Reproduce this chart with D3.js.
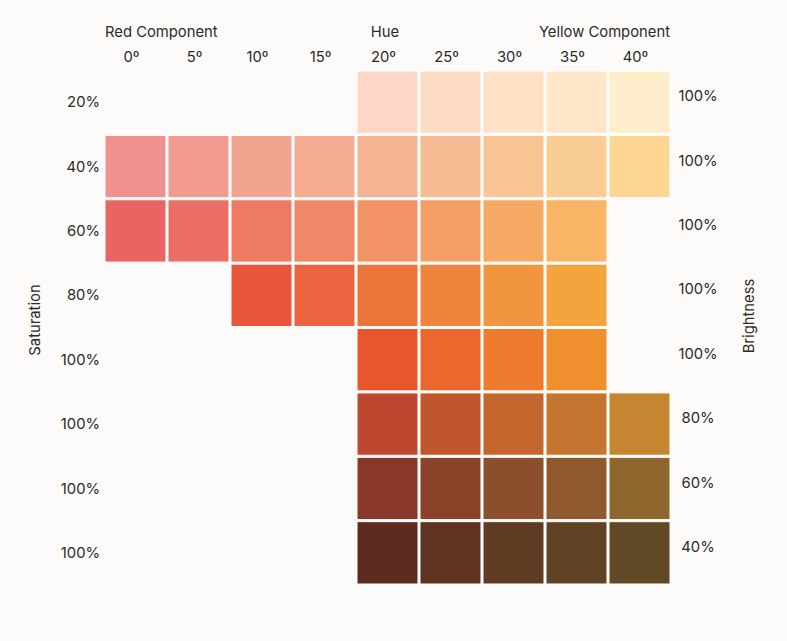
<!DOCTYPE html>
<html>
<head>
<meta charset="utf-8">
<script src="https://cdn.jsdelivr.net/npm/d3@7"></script>
<style>
  html, body { margin: 0; padding: 0; background: #fcfbf9; }
  svg { display: block; }
  text { font-family: Inter, "Noto Sans", sans-serif; fill: #2b2b2b; }
</style>
</head>
<body>
<svg id="chart" width="787" height="641"></svg>
<script>
// Hue columns (degrees)
const hues = [0, 5, 10, 15, 20, 25, 30, 35, 40];
const hueLabels = ["0º", "5º", "10º", "15º", "20º", "25º", "30º", "35º", "40º"];
// Row labels
const saturationLabels = ["20%", "40%", "60%", "80%", "100%", "100%", "100%", "100%"];
const brightnessLabels = ["100%", "100%", "100%", "100%", "100%", "80%", "60%", "40%"];
// Swatch colours per row (null = no swatch), columns follow `hues`
const row1 = [null, null, null, null, "#fdd6c5", "#fddcc5", "#fde2c6", "#fee7c9", "#feeecc"];
const row2 = ["#f09190", "#f19b8f", "#f2a491", "#f4ab91", "#f6b391", "#f6bb92", "#f9c593", "#facd95", "#fdd694"];
const row3 = ["#ea6464", "#ec6f65", "#ee7a63", "#f08766", "#f29366", "#f29e64", "#f5a963", "#f8b565", null];
const row4 = [null, null, "#e8553a", "#ea643f", "#ec743b", "#ef843d", "#f1953f", "#f4a43d", null];
const row5 = [null, null, null, null, "#e8562b", "#ea682c", "#ee7b2d", "#f08f2d", null];
const row6 = [null, null, null, null, "#c0472f", "#c0572c", "#c3662e", "#c47630", "#c58531"];
const row7 = [null, null, null, null, "#8a3629", "#8b4229", "#8c4e2b", "#8e5a2d", "#8f662e"];
const row8 = [null, null, null, null, "#5e2b20", "#5f3321", "#5e3b22", "#604224", "#614926"];
const swatchRows = [row1, row2, row3, row4, row5, row6, row7, row8];

const svg = d3.select("#chart");
const FS = 14.8;

const x = d3.scaleBand().domain(hues).range([105, 670]).paddingInner(0.032).paddingOuter(0);
const y = d3.scaleBand().domain(d3.range(swatchRows.length)).range([71, 584]).paddingInner(0.032).paddingOuter(0);

// Cells
const cells = [];
swatchRows.forEach((r, ri) => r.forEach((c, ci) => { if (c) cells.push({ row: ri, hue: hues[ci], color: c }); }));

svg.append("g").selectAll("rect").data(cells).join("rect")
  .attr("x", d => x(d.hue))
  .attr("y", d => y(d.row))
  .attr("width", x.bandwidth())
  .attr("height", y.bandwidth())
  .attr("fill", d => d.color)
  .attr("stroke", "#ffffff")
  .attr("stroke-width", 1);

// Top hue tick labels
svg.append("g").selectAll("text").data(hues).join("text")
  .attr("x", d => x(d) + x.bandwidth() / 2 - 4)
  .attr("y", 62)
  .attr("text-anchor", "middle")
  .attr("font-size", FS)
  .text((d, i) => hueLabels[i]);

// Header labels
const header = svg.append("g").attr("font-size", FS);
header.append("text").attr("x", 105).attr("y", 37).attr("text-anchor", "start").text("Red Component");
header.append("text").attr("x", 385).attr("y", 37).attr("text-anchor", "middle").text("Hue");
header.append("text").attr("x", 670).attr("y", 37).attr("text-anchor", "end").text("Yellow Component");

// Left saturation labels
svg.append("g").selectAll("text").data(saturationLabels).join("text")
  .attr("x", 100)
  .attr("y", (d, i) => y(i) + y.bandwidth() / 2)
  .attr("dy", "0.35em")
  .attr("text-anchor", "end")
  .attr("font-size", FS)
  .text(d => d);

// Right brightness labels
svg.append("g").selectAll("text").data(brightnessLabels).join("text")
  .attr("x", 698)
  .attr("y", (d, i) => y(i) + y.bandwidth() / 2 - 6)
  .attr("dy", "0.35em")
  .attr("text-anchor", "middle")
  .attr("font-size", FS)
  .text(d => d);

// Axis titles
svg.append("text")
  .attr("transform", "translate(35,320) rotate(-90)")
  .attr("dy", "0.35em")
  .attr("text-anchor", "middle")
  .attr("font-size", FS)
  .text("Saturation");
svg.append("text")
  .attr("transform", "translate(749,316) rotate(-90)")
  .attr("dy", "0.35em")
  .attr("text-anchor", "middle")
  .attr("font-size", FS)
  .text("Brightness");
</script>
</body>
</html>
